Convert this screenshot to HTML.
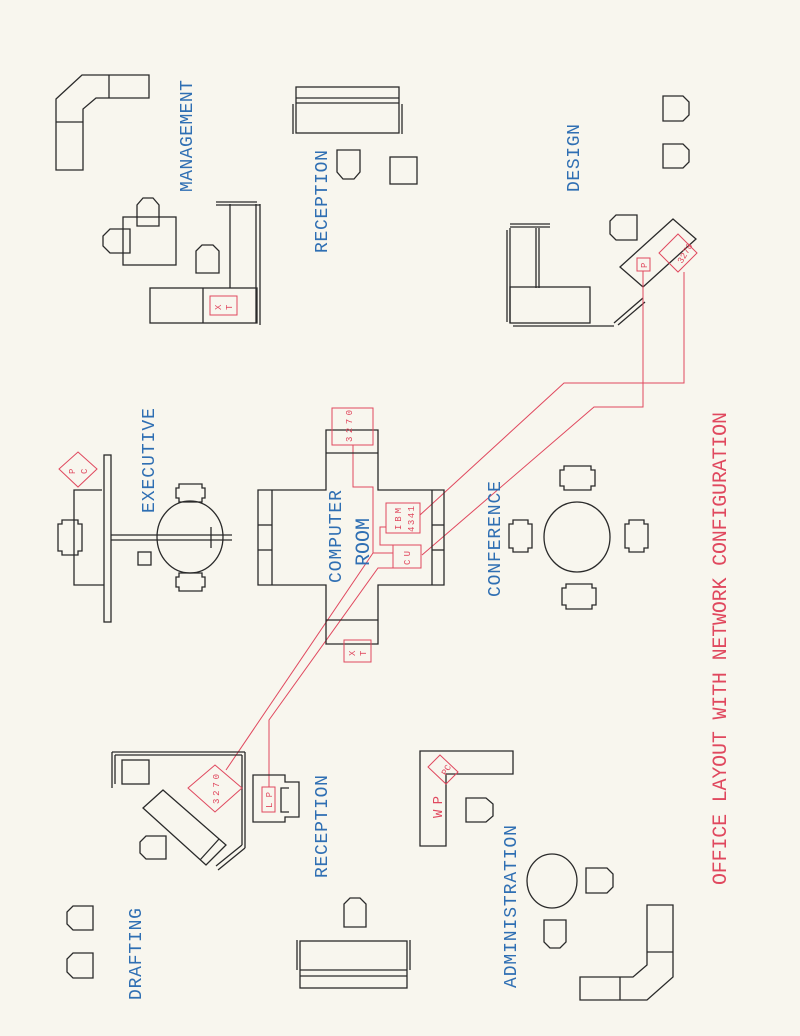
<!DOCTYPE html>
<html><head><meta charset="utf-8"><style>
html,body{margin:0;padding:0;background:#f8f6ee;}
svg{display:block}
.k{fill:none;stroke:#2a2a2a;stroke-width:1.3}
.r{fill:none;stroke:#e0485e;stroke-width:1}
.b{fill:#2f6fb3;font-family:"Liberation Mono",monospace;font-size:18px}
.rt{fill:#e0485e;font-family:"Liberation Mono",monospace;font-size:9px}
</style></head><body>
<svg width="800" height="1036" viewBox="0 0 800 1036" xmlns="http://www.w3.org/2000/svg">
<rect width="800" height="1036" fill="#f8f6ee"/>
<!-- MANAGEMENT -->
<polygon class="k" points="56,99 82,75 149,75 149,98 96,98 83,109 83,170 56,170"/>
<line class="k" x1="109" y1="75" x2="109" y2="98"/><line class="k" x1="56" y1="122" x2="83" y2="122"/>
<rect class="k" x="123" y="217" width="53" height="48"/>
<polygon class="k" points="137,226 137,205 143,198 153,198 159,205 159,226"/>
<polygon class="k" points="130,229 110,229 103,236 103,246 110,253 130,253"/>
<polygon class="k" points="196,273 196,251 202,245 213,245 219,251 219,273"/>
<line class="k" x1="230" y1="204" x2="230" y2="288"/>
<line class="k" x1="256" y1="204" x2="256" y2="323"/><line class="k" x1="260" y1="204" x2="260" y2="325"/>
<line class="k" x1="216" y1="202" x2="257" y2="202"/><line class="k" x1="216" y1="205" x2="260" y2="205"/>
<rect class="k" x="150" y="288" width="107" height="35"/><line class="k" x1="203" y1="288" x2="203" y2="323"/>
<rect class="r" x="210" y="296" width="27" height="19"/>
<text class="rt" transform="translate(221,310) rotate(-90)">X</text><text class="rt" transform="translate(232,310) rotate(-90)">T</text>
<text class="b" transform="translate(192,192) rotate(-90)" textLength="112" lengthAdjust="spacing">MANAGEMENT</text>
<!-- RECEPTION top -->
<rect class="k" x="296" y="87" width="103" height="46"/>
<line class="k" x1="296" y1="98" x2="399" y2="98"/><line class="k" x1="296" y1="103" x2="399" y2="103"/>
<line class="k" x1="293" y1="104" x2="293" y2="134"/><line class="k" x1="402" y1="104" x2="402" y2="134"/>
<polygon class="k" points="337,150 360,150 360,172 354,179 343,179 337,172"/>
<rect class="k" x="390" y="157" width="27" height="27"/>
<text class="b" transform="translate(327,253) rotate(-90)" textLength="103" lengthAdjust="spacing">RECEPTION</text>
<!-- DESIGN -->
<polygon class="k" points="663,96 683,96 689,102 689,115 683,121 663,121"/>
<polygon class="k" points="663,144 683,144 689,150 689,162 683,168 663,168"/>
<polygon class="k" points="637,215 616,215 610,221 610,234 616,240 637,240"/>
<line class="k" x1="507" y1="230" x2="507" y2="322"/><line class="k" x1="510" y1="228" x2="510" y2="323"/>
<line class="k" x1="510" y1="224" x2="550" y2="224"/><line class="k" x1="510" y1="227" x2="550" y2="227"/>
<line class="k" x1="536" y1="228" x2="536" y2="288"/><line class="k" x1="539" y1="228" x2="539" y2="288"/>
<rect class="k" x="510" y="287" width="80" height="36"/>
<line class="k" x1="513" y1="326" x2="614" y2="326"/>
<line class="k" x1="614" y1="323" x2="643" y2="298"/><line class="k" x1="618" y1="325" x2="645" y2="302"/>
<polygon class="k" points="620,267 673,219 696,239 643,287"/>
<rect class="r" x="637" y="258" width="13" height="13"/>
<text class="rt" transform="translate(647,268) rotate(-90)">P</text>
<polygon class="r" points="678,234 697,253 678,272 659,253"/>
<text class="rt" transform="translate(682,264) rotate(-60)">3270</text>
<text class="b" transform="translate(579,192) rotate(-90)" textLength="68" lengthAdjust="spacing">DESIGN</text>
<!-- network lines -->
<polyline class="r" points="684,272 684,383 564,383 420,515"/>
<polyline class="r" points="643,271 643,407 594,407 422,555"/>
<polyline class="r" points="353,445 353,487 373,487 373,553 393,553"/>
<polyline class="r" points="373,553 226,770"/>
<polyline class="r" points="393,568 378,568 269,720 269,787"/>
<polyline class="r" points="386,527 380,527 380,545 393,545"/>
<!-- COMPUTER ROOM -->
<polygon class="k" points="326,430 378,430 378,490 444,490 444,585 378,585 378,644 326,644 326,585 258,585 258,490 326,490"/>
<line class="k" x1="326" y1="453" x2="378" y2="453"/><line class="k" x1="326" y1="620" x2="378" y2="620"/>
<line class="k" x1="272" y1="490" x2="272" y2="585"/><line class="k" x1="258" y1="525" x2="272" y2="525"/><line class="k" x1="258" y1="550" x2="272" y2="550"/>
<line class="k" x1="432" y1="490" x2="432" y2="585"/><line class="k" x1="432" y1="525" x2="444" y2="525"/><line class="k" x1="432" y1="550" x2="444" y2="550"/>
<rect class="r" x="332" y="408" width="41" height="37" fill="#f8f6ee"/>
<text class="rt" transform="translate(352,442) rotate(-90)" textLength="32" lengthAdjust="spacing">3270</text>
<rect class="r" x="386" y="503" width="34" height="30"/>
<text class="rt" transform="translate(401,530) rotate(-90)" textLength="22">IBM</text>
<text class="rt" transform="translate(414,532) rotate(-90)" textLength="26">4341</text>
<rect class="r" x="393" y="545" width="28" height="23"/>
<text class="rt" transform="translate(410,565) rotate(-90)" textLength="14">CU</text>
<rect class="r" x="344" y="640" width="27" height="22" fill="#f8f6ee"/>
<text class="rt" transform="translate(355,656) rotate(-90)">X</text><text class="rt" transform="translate(366,656) rotate(-90)">T</text>
<text class="b" transform="translate(341,583) rotate(-90)" textLength="93" lengthAdjust="spacing">COMPUTER</text>
<text class="b" transform="translate(369,566) rotate(-90)" style="font-size:20px">ROOM</text>
<!-- EXECUTIVE -->
<rect class="k" x="104" y="455" width="7" height="167"/>
<line class="k" x1="111" y1="535" x2="232" y2="535"/><line class="k" x1="111" y1="540" x2="232" y2="540"/>
<line class="k" x1="211" y1="527" x2="211" y2="548"/>
<ellipse class="k" cx="190" cy="537" rx="33" ry="36"/>
<polygon class="k" points="179,484 202,484 202,488 205,488 205,498 202,498 202,502 179,502 179,498 176,498 176,488 179,488"/>
<polygon class="k" points="179,573 202,573 202,577 205,577 205,587 202,587 202,591 179,591 179,587 176,587 176,577 179,577"/>
<rect class="k" x="138" y="552" width="13" height="13"/>
<polygon class="k" points="62,520 78,520 78,524 82,524 82,551 78,551 78,555 62,555 62,551 58,551 58,524 62,524"/>
<polyline class="k" points="102,490 74,490 74,585 104,585"/>
<polygon class="r" points="78,452 97,469 78,487 59,469" fill="#f8f6ee"/>
<text class="rt" transform="translate(75,474) rotate(-90)">P</text><text class="rt" transform="translate(87,474) rotate(-90)">C</text>
<text class="b" transform="translate(154,513) rotate(-90)" textLength="105" lengthAdjust="spacing">EXECUTIVE</text>
<!-- CONFERENCE -->
<ellipse class="k" cx="577" cy="537" rx="33" ry="35"/>
<polygon class="k" points="564,466 591,466 591,470 595,470 595,486 591,486 591,490 564,490 564,486 560,486 560,470 564,470"/>
<polygon class="k" points="566,584 592,584 592,588 596,588 596,605 592,605 592,609 566,609 566,605 562,605 562,588 566,588"/>
<polygon class="k" points="513,520 528,520 528,524 532,524 532,548 528,548 528,552 513,552 513,548 509,548 509,524 513,524"/>
<polygon class="k" points="629,520 644,520 644,524 648,524 648,548 644,548 644,552 629,552 629,548 625,548 625,524 629,524"/>
<text class="b" transform="translate(500,597) rotate(-90)" textLength="116" lengthAdjust="spacing">CONFERENCE</text>
<!-- DRAFTING desk area -->
<line class="k" x1="112" y1="752" x2="245" y2="752"/><line class="k" x1="115" y1="755" x2="242" y2="755"/>
<line class="k" x1="112" y1="752" x2="112" y2="788"/><line class="k" x1="115" y1="755" x2="115" y2="784"/>
<line class="k" x1="245" y1="752" x2="245" y2="848"/><line class="k" x1="242" y1="755" x2="242" y2="845"/>
<line class="k" x1="245" y1="848" x2="218" y2="870"/><line class="k" x1="242" y1="845" x2="216" y2="866"/>
<rect class="k" x="122" y="760" width="27" height="24"/>
<polygon class="k" points="143,808 163,790 226,845 206,865"/>
<line class="k" x1="200" y1="860" x2="219" y2="839"/>
<polygon class="k" points="166,836 146,836 140,842 140,853 146,859 166,859"/>
<polygon class="r" points="215,765 242,788 215,812 188,788" fill="#f8f6ee"/>
<text class="rt" transform="translate(219,804) rotate(-90)" textLength="30" lengthAdjust="spacing">3270</text>
<polygon class="k" points="253,775 285,775 285,782 299,782 299,817 285,817 285,822 253,822"/>
<polyline class="k" points="289,788 281,788 281,812 289,812"/>
<rect class="r" x="262" y="787" width="13" height="25"/>
<text class="rt" transform="translate(272,808) rotate(-90)" textLength="16">LP</text>
<text class="b" transform="translate(327,878) rotate(-90)" textLength="103" lengthAdjust="spacing">RECEPTION</text>
<polygon class="k" points="344,927 344,904 350,898 360,898 366,904 366,927"/>
<rect class="k" x="300" y="941" width="107" height="47"/>
<line class="k" x1="300" y1="970" x2="407" y2="970"/><line class="k" x1="300" y1="976" x2="407" y2="976"/>
<line class="k" x1="297" y1="940" x2="297" y2="970"/><line class="k" x1="410" y1="940" x2="410" y2="970"/>
<polygon class="k" points="93,906 73,906 67,912 67,924 73,930 93,930"/>
<polygon class="k" points="93,953 73,953 67,959 67,972 73,978 93,978"/>
<text class="b" transform="translate(141,1000) rotate(-90)" textLength="92" lengthAdjust="spacing">DRAFTING</text>
<!-- ADMINISTRATION -->
<polygon class="k" points="420,751 513,751 513,774 446,774 446,846 420,846"/>
<polygon class="r" points="440,755 458,772 446,784 428,767" fill="#f8f6ee"/>
<text class="rt" transform="translate(446,776) rotate(-60)">PC</text>
<text class="rt" transform="translate(442,818) rotate(-90)" style="font-size:14px" textLength="22">WP</text>
<polygon class="k" points="466,798 486,798 493,804 493,816 486,822 466,822"/>
<ellipse class="k" cx="552" cy="881" rx="25" ry="27"/>
<polygon class="k" points="586,868 607,868 613,874 613,887 607,893 586,893"/>
<polygon class="k" points="544,920 566,920 566,942 560,948 550,948 544,942"/>
<polygon class="k" points="647,905 673,905 673,977 647,1000 580,1000 580,977 633,977 647,965"/>
<line class="k" x1="647" y1="952" x2="673" y2="952"/><line class="k" x1="620" y1="977" x2="620" y2="1000"/>
<text class="b" transform="translate(516,988) rotate(-90)" textLength="163" lengthAdjust="spacing">ADMINISTRATION</text>
<!-- Title -->
<text transform="translate(726,885) rotate(-90)" textLength="473" lengthAdjust="spacing" style="fill:#e0485e;font-family:'Liberation Mono',monospace;font-size:20px">OFFICE LAYOUT WITH NETWORK CONFIGURATION</text>
</svg>
</body></html>
